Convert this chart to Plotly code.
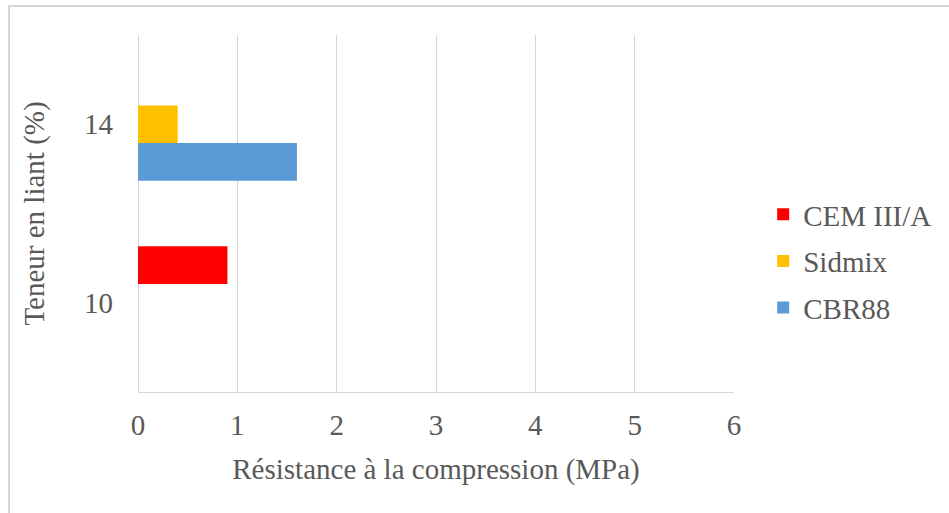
import plotly.graph_objects as go

# Binder content categories (%) and compressive strength (MPa) per binder
categories = ["10", "14"]
cbr88 = [None, 1.6]
sidmix = [None, 0.4]
cem3a = [0.9, None]
x_ticks = [0, 1, 2, 3, 4, 5, 6]

FONT = "Liberation Serif"
GREY = "#595959"
GRID = "#d6d6d6"
FS = 29

fig = go.Figure()
# Bars are stacked bottom-to-top in trace order; legend lists them top-to-bottom
for name, vals, color, rank in [
    ("CBR88", cbr88, "#5B9BD5", 3),
    ("Sidmix", sidmix, "#FFC000", 2),
    ("CEM III/A", cem3a, "#FF0000", 1),
]:
    fig.add_trace(go.Bar(
        y=categories, x=vals, name=name, orientation="h",
        marker=dict(color=color, line=dict(width=0)),
        legendgroup=name, legendrank=rank,
    ))

fig.update_layout(
    width=949, height=513,
    margin=dict(l=138, r=215, t=35, b=121, autoexpand=False),
    paper_bgcolor="white", plot_bgcolor="white",
    barmode="group", bargap=0.366, bargroupgap=0,
    font=dict(family=FONT, size=FS, color=GREY),
    legend=dict(
        x=1.049, y=0.366, xanchor="left", yanchor="middle",
        traceorder="grouped", tracegroupgap=6,
        font=dict(family=FONT, size=FS, color=GREY),
        bgcolor="rgba(0,0,0,0)", itemwidth=30,
    ),
    showlegend=True,
)

fig.update_xaxes(
    range=[0, 6], tickvals=x_ticks, ticktext=[str(v) for v in x_ticks],
    showgrid=True, gridcolor=GRID, gridwidth=1.3,
    zeroline=True, zerolinecolor=GRID, zerolinewidth=1.3,
    showline=True, linecolor=GRID, linewidth=1.3,
    ticks="", ticklabelstandoff=7,
    title=dict(text="Résistance à la compression (MPa)", standoff=18,
               font=dict(family=FONT, size=FS, color=GREY)),
    fixedrange=True,
)
fig.update_yaxes(
    type="category", categoryorder="array", categoryarray=categories,
    showgrid=False, zeroline=False, showline=False,
    ticks="", ticklabelstandoff=24,
    title=dict(text="Teneur en liant (%)", standoff=30,
               font=dict(family=FONT, size=FS, color=GREY)),
    fixedrange=True,
)

# Chart-area frame (light grey border)
fig.add_shape(type="rect", xref="paper", yref="paper",
              x0=(9 - 138) / 596, x1=(960 - 138) / 596,
              y0=(392 - 530) / 357, y1=(392 - 6) / 357,
              line=dict(color=GRID, width=2), fillcolor="rgba(0,0,0,0)",
              layer="below")

fig.write_html("out.html")
